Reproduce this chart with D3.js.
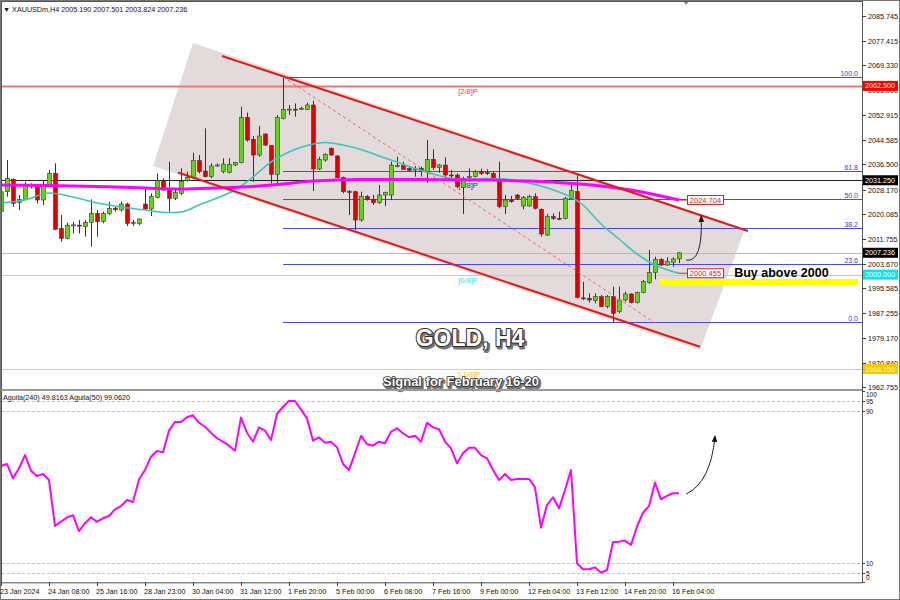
<!DOCTYPE html>
<html><head><meta charset="utf-8">
<script src="https://cdn.jsdelivr.net/npm/d3@7"></script>
<style>body{margin:0;background:#fff}svg{display:block}text{font-family:"Liberation Sans",Arial,sans-serif}</style>
</head><body><svg id="c" width="900" height="600"></svg>
<script>
// ---------- DATA (XAUUSDm, H4, bar 0 = 23 Jan 2024 00:00) ----------
const opens = [2020.84,2027.46,2031.55,2023.82,2024.93,2029.70,2029.34,2024.71,2029.45,2033.53,2015.32,2012.01,2016.30,2016.40,2015.88,2017.31,2020.29,2017.53,2020.29,2022.00,2021.40,2023.38,2017.10,2016.98,2023.38,2021.73,2025.59,2031.11,2028.02,2025.26,2026.92,2031.11,2032.21,2037.73,2034.31,2032.44,2036.10,2034.09,2033.87,2036.30,2037.07,2052.08,2044.80,2039.61,2046.56,2042.70,2033.20,2051.75,2054.60,2054.80,2054.90,2054.73,2056.17,2034.98,2037.96,2041.82,2039.28,2032.21,2027.50,2027.46,2018.08,2025.81,2024.93,2023.82,2026.36,2026.36,2036.00,2036.19,2035.19,2035.00,2035.19,2034.09,2038.18,2035.53,2036.30,2033.00,2032.99,2028.90,2032.40,2032.44,2034.09,2033.80,2033.53,2031.55,2022.50,2024.71,2026.36,2022.72,2022.72,2025.81,2021.62,2013.12,2019.19,2018.64,2018.64,2025.27,2027.47,1992.30,1992.15,1991.38,1992.70,1989.39,1992.70,1987.74,1991.60,1993.59,1990.72,1994.03,1997.34,2000.65,2005.07,2003.19,2004.07,2005.19];
const highs = [2028.57,2037.96,2031.88,2026.36,2030.78,2030.23,2030.00,2031.11,2034.64,2036.85,2019.74,2017.20,2017.53,2018.08,2018.08,2024.93,2021.40,2020.85,2024.15,2022.50,2024.15,2023.82,2018.08,2018.64,2028.57,2026.92,2033.53,2031.88,2037.40,2028.02,2035.19,2034.09,2040.38,2039.61,2048.44,2036.85,2036.85,2038.51,2038.51,2037.40,2055.61,2053.63,2045.90,2049.21,2046.78,2042.92,2052.85,2065.50,2056.17,2056.72,2055.61,2056.94,2057.60,2039.06,2040.16,2042.15,2039.61,2032.44,2028.02,2027.80,2027.46,2026.36,2026.36,2029.68,2027.46,2037.40,2039.06,2037.40,2035.97,2035.97,2035.75,2044.58,2041.49,2036.63,2038.84,2034.64,2033.53,2032.44,2035.19,2034.64,2035.08,2034.86,2034.09,2037.40,2026.36,2026.03,2026.70,2026.03,2026.36,2026.92,2021.95,2020.07,2020.29,2020.85,2025.81,2029.68,2032.99,1997.67,1993.81,1993.81,1993.26,1993.26,1996.02,1996.02,1994.36,1993.81,1994.36,1998.22,2008.16,2005.95,2005.40,2005.73,2005.73,2007.501];
const lows = [2020.29,2025.81,2022.50,2021.40,2024.71,2028.57,2023.60,2023.05,2029.12,2014.77,2010.91,2011.68,2013.67,2013.67,2012.56,2009.25,2012.56,2016.98,2019.74,2020.85,2020.85,2016.10,2016.10,2016.43,2021.40,2019.41,2025.26,2027.80,2020.85,2024.71,2026.36,2030.78,2031.88,2033.53,2032.21,2031.88,2035.75,2033.53,2033.53,2035.97,2036.85,2044.03,2030.78,2039.06,2042.59,2030.23,2030.23,2051.42,2052.86,2052.31,2054.51,2054.51,2027.69,2034.64,2037.40,2039.28,2031.88,2026.92,2019.74,2014.77,2017.53,2024.49,2023.05,2023.38,2022.72,2024.71,2035.53,2034.64,2034.09,2032.44,2032.44,2030.45,2034.64,2033.76,2031.88,2031.33,2028.57,2020.07,2030.78,2032.21,2032.99,2032.99,2031.33,2021.95,2020.07,2023.82,2024.71,2021.62,2022.50,2021.62,2012.56,2012.79,2018.08,2018.08,2018.31,2024.94,1992.15,1991.60,1990.72,1990.50,1989.17,1988.84,1984.09,1987.19,1991.05,1990.50,1990.50,1993.81,1996.90,1998.44,2002.86,2002.86,2002.64,2003.824];
const closes = [2027.46,2031.88,2023.60,2024.93,2029.90,2029.60,2024.71,2029.57,2033.53,2015.00,2012.01,2016.21,2016.50,2016.20,2017.31,2020.29,2017.53,2020.29,2021.95,2021.50,2023.38,2016.98,2017.30,2018.42,2021.73,2025.81,2031.11,2028.02,2025.26,2027.14,2030.78,2032.21,2037.73,2034.09,2032.44,2035.97,2036.30,2036.63,2036.52,2037.18,2052.08,2044.58,2039.61,2045.90,2042.92,2033.20,2051.97,2054.73,2054.80,2054.60,2055.10,2056.17,2034.98,2038.18,2039.83,2039.61,2032.10,2027.46,2027.30,2018.08,2025.81,2024.93,2023.82,2026.36,2027.14,2036.30,2036.10,2034.87,2034.53,2034.90,2034.09,2038.18,2035.53,2036.30,2032.99,2032.90,2029.12,2031.88,2032.50,2034.09,2033.43,2033.70,2031.55,2022.50,2024.71,2024.15,2025.26,2025.59,2025.81,2021.95,2013.45,2019.19,2018.64,2018.31,2025.26,2027.80,1992.49,1992.10,1991.60,1992.70,1989.39,1992.70,1987.19,1991.60,1993.59,1990.72,1994.03,1997.67,2000.65,2005.07,2003.19,2004.30,2005.18,2007.236];

// slow MA (magenta) read at sample bars
const maSlowIdx = [0,8,16,24,30,36,42,47,52,60,70,80,88,94,100,106,110,113];
const maSlowVal = [2029.68,2029.52,2029.18,2028.69,2028.36,2028.69,2029.18,2030.01,2031.0,2031.5,2031.5,2031.34,2031.0,2030.34,2029.35,2027.69,2026.04,2024.704];
// fast MA (teal) read at sample bars
const maFastIdx = [0,4,8,12,16,20,24,28,30,33,36,39,42,45,48,51,54,57,60,63,66,69,72,75,78,81,84,87,90,93,95,97,100,103,106,109,113];
const maFastVal = [2023.72,2024.72,2027.03,2025.71,2023.72,2022.40,2021.40,2020.57,2020.74,2023.06,2025.38,2028.02,2032.33,2037.30,2040.61,2042.76,2043.76,2042.93,2041.43,2039.28,2037.30,2035.14,2033.32,2031.83,2031.50,2031.83,2031.67,2030.67,2029.35,2027.36,2025.71,2023.06,2016.77,2011.80,2006.83,2003.19,2000.455];

// Aguila oscillator, one value per bar
const aguila = [61.0,62.0,54.5,59.8,66.7,58.5,55.7,56.8,53.6,29.6,31.8,34.1,35.2,26.9,31.0,34.1,31.8,33.6,34.8,38.3,40.0,43.2,42.1,54.0,58.9,65.8,68.8,68.1,79.5,84.0,84.0,86.5,87.5,83.6,81.5,78.4,75.5,73.7,71.6,69.0,86.3,78.4,73.7,81.2,79.5,74.6,88.2,92.0,95.0,95.0,90.5,85.9,74.2,76.0,73.2,73.7,70.8,62.0,58.9,67.6,76.7,72.5,71.6,73.7,72.9,78.9,80.7,78.1,76.0,76.8,73.7,83.6,81.2,80.2,73.7,70.2,62.4,67.6,70.5,70.5,66.7,65.0,58.9,53.6,56.8,53.6,54.2,54.2,54.2,49.8,28.7,40.5,44.6,38.8,48.4,58.9,10.0,6.9,6.9,7.9,5.1,6.5,21.2,21.3,21.9,19.6,29.2,36.5,40.0,52.2,43.5,45.3,46.7,46.7];

const priceTicks = [2085.745,2077.415,2069.330,2061.000,2052.915,2044.585,2036.500,2028.170,2020.085,2011.755,2003.670,1995.585,1987.255,1979.170,1970.840,1962.755];
const timeTickIdx = [0,8,16,24,32,40,48,56,64,72,80,88,96,104,112];
const timeTickLbl = ["23 Jan 2024","24 Jan 08:00","25 Jan 16:00","28 Jan 23:00","30 Jan 04:00","31 Jan 12:00","1 Feb 20:00","5 Feb 00:00","6 Feb 08:00","7 Feb 16:00","9 Feb 00:00","12 Feb 04:00","13 Feb 12:00","14 Feb 20:00","16 Feb 04:00"];
const oscLevels = [95,90,10,5];
const oscTicks = [100,95,90,10,5,0];

// Murrey levels
const murreyPrice = [2062.5,2031.25,2000.0,1968.75];
const murreyLabel = ["[2/8]P","[1/8]P","[0/8]P","[-1/8]P"];
const murreyColor = ["#f07878","#222222","#7ee8ee","#ffd21a"];
const murreyText = ["#ff3333","#333333","#3fd8e6","#f0c000"];
const murreyBox = ["#ff0000","#000000","#00e8f0","#ffc400"];

// Fibonacci
const fibLevels = [0,23.6,38.2,50,61.8,100];
const fibHigh = 2065.5, fibLow = 1984.3, fibStartIdx = 47;

// channel drawing (bar index, price)
const boxIdx = [32,124,116.5,25.33], boxPrice = [2076.7,2015.11,1975.04,2035.97];
const chanUpIdx = [36.83,124.5], chanUpPrice = [2072.40,2014.45];
const chanLoIdx = [29.5,116.5], chanLoPrice = [2033.82,1976.14];
const dashIdx = [47,109], dashPrice = [2065.5,1984.0];
const buyZone = [1996.55,1998.55], buyZoneStartIdx = 109.7;

// ---------- CHART ----------
const svg = d3.select('#c');
const plotL = 2, plotR = 862, mainT = 2, mainB = 389, oscT = 391, oscB = 582;
const x = d3.scaleLinear().domain([0,113]).range([1,679]);
const y = d3.scaleLinear().domain([1962.755,2085.745]).range([387.1,15.7]);
const yo = d3.scaleLinear().domain([0,100]).range([582.45,391.45]);

const defs = svg.append('defs');
defs.append('clipPath').attr('id','cm').append('rect').attr('x',plotL).attr('y',mainT).attr('width',plotR-plotL).attr('height',mainB-mainT);
defs.append('clipPath').attr('id','co').append('rect').attr('x',plotL).attr('y',oscT).attr('width',plotR-plotL).attr('height',oscB-oscT);
const mk = defs.append('marker').attr('id','ah').attr('viewBox','0 0 10 10').attr('refX',8).attr('refY',5)
  .attr('markerWidth',7).attr('markerHeight',7).attr('orient','auto');
mk.append('path').attr('d','M0,1 L10,5 L0,9 Z').attr('fill','#111');

svg.append('rect').attr('x',0).attr('y',0).attr('width',900).attr('height',600).attr('fill','#fff');
const gm = svg.append('g').attr('clip-path','url(#cm)');
const go = svg.append('g').attr('clip-path','url(#co)');

// shaded channel
gm.append('polygon').attr('points', boxIdx.map((b,k)=>[x(b),y(boxPrice[k])].join(',')).join(' '))
  .attr('fill','#e3dbdb');

// murrey lines
murreyPrice.forEach((p,k)=>{
  gm.append('line').attr('x1',plotL).attr('x2',plotR).attr('y1',Math.round(y(p))+0.5).attr('y2',Math.round(y(p))+0.5)
    .attr('stroke',murreyColor[k]).attr('stroke-width',k===0?2:1);
  gm.append('text').attr('x',x(76.2)).attr('y',y(p)+8).attr('font-size',7.5)
    .attr('fill',murreyText[k]).text(murreyLabel[k]);
});
// current price line
gm.append('line').attr('x1',plotL).attr('x2',plotR).attr('y1',Math.round(y(closes[113]))+0.5).attr('y2',Math.round(y(closes[113]))+0.5)
  .attr('stroke','#b8b8b8').attr('stroke-width',1);

// fib lines
fibLevels.forEach(l=>{
  const p = fibLow + (fibHigh-fibLow)*l/100;
  const yy = Math.round(y(p))+0.5;
  gm.append('line').attr('x1',x(fibStartIdx)).attr('x2',plotR).attr('y1',yy).attr('y2',yy).attr('stroke','#4848f4').attr('stroke-width',1);
  gm.append('text').attr('x',858).attr('y',yy-2).attr('text-anchor','end').attr('font-size',7).attr('fill','#3a3af0').text(l.toFixed(1));
});

// buy zone
gm.append('rect').attr('x',x(buyZoneStartIdx)).attr('y',y(buyZone[1])).attr('width',858-x(buyZoneStartIdx))
  .attr('height',y(buyZone[0])-y(buyZone[1])).attr('fill','#ffff00');

// candles
const gc = gm.append('g');
d3.range(opens.length).forEach(i=>{
  const cx = Math.round(x(i))+0.5;
  gc.append('line').attr('x1',cx).attr('x2',cx).attr('y1',y(highs[i])).attr('y2',y(lows[i])).attr('stroke','#333').attr('stroke-width',1);
  const up = closes[i]>=opens[i];
  const top = y(Math.max(opens[i],closes[i])), bot = y(Math.min(opens[i],closes[i]));
  gc.append('rect').attr('x',cx-2).attr('y',top).attr('width',4).attr('height',Math.max(1,bot-top))
    .attr('fill',up?'#62d316':'#e10000').attr('stroke','#3a3a3a').attr('stroke-width',0.6);
});

// moving averages
const lineGen = d3.line().curve(d3.curveMonotoneX);
gm.append('path').attr('d',lineGen(maFastIdx.map((b,k)=>[x(b),y(maFastVal[k])])))
  .attr('fill','none').attr('stroke','#3cc4bc').attr('stroke-width',1.6);
gm.append('path').attr('d',lineGen(maSlowIdx.map((b,k)=>[x(b),y(maSlowVal[k])])))
  .attr('fill','none').attr('stroke','#ff00ff').attr('stroke-width',3);

// channel lines
gm.append('line').attr('x1',x(chanUpIdx[0])).attr('y1',y(chanUpPrice[0])).attr('x2',x(chanUpIdx[1])).attr('y2',y(chanUpPrice[1]))
  .attr('stroke','#dd1c1c').attr('stroke-width',2);
gm.append('line').attr('x1',x(chanLoIdx[0])).attr('y1',y(chanLoPrice[0])).attr('x2',x(chanLoIdx[1])).attr('y2',y(chanLoPrice[1]))
  .attr('stroke','#dd1c1c').attr('stroke-width',2);
gm.append('line').attr('x1',x(dashIdx[0])).attr('y1',y(dashPrice[0])).attr('x2',x(dashIdx[1])).attr('y2',y(dashPrice[1]))
  .attr('stroke','#f06060').attr('stroke-width',1).attr('stroke-dasharray','3,3');

// MA value boxes
[[maSlowVal[maSlowVal.length-1]],[maFastVal[maFastVal.length-1]]].forEach(([v])=>{
  const yy = y(v);
  gm.append('line').attr('x1',x(113)).attr('x2',x(113)+8).attr('y1',yy).attr('y2',yy).attr('stroke','#e02020');
  gm.append('rect').attr('x',x(113)+8.5).attr('y',yy-4.5).attr('width',36).attr('height',9).attr('fill','#fff').attr('stroke','#e02020').attr('stroke-width',1);
  gm.append('text').attr('x',x(113)+26.5).attr('y',yy+3).attr('text-anchor','middle').attr('font-size',7.5).attr('fill','#e02020').text(v.toFixed(3));
});

// arrow main
const a0=[x(114.2),y(2004.8)], ac=[x(117),y(2003.9)], a1=[x(116.7),y(2019.3)];
gm.append('path').attr('d',`M${a0}Q${ac} ${a1}`).attr('fill','none').attr('stroke','#222').attr('stroke-width',1).attr('marker-end','url(#ah)');

// Buy above 2000
gm.append('text').attr('x',x(122.2)).attr('y',y(2000)+2).attr('font-size',12.5).attr('font-weight','bold').attr('fill','#000').text('Buy above 2000');

// outlined big texts
function outlined(g, txt, cx, by, size, sw){
  g.append('text').attr('x',cx+1.5).attr('y',by+1.5).attr('text-anchor','middle').attr('font-size',size).attr('font-weight','bold')
    .attr('fill','#777').attr('stroke','#777').attr('stroke-width',sw+0.8).attr('stroke-linejoin','round').text(txt);
  g.append('text').attr('x',cx).attr('y',by).attr('text-anchor','middle').attr('font-size',size).attr('font-weight','bold')
    .attr('fill','#fff').attr('stroke','#2a2a2a').attr('stroke-width',sw).attr('stroke-linejoin','round').attr('paint-order','stroke').text(txt);
}
outlined(svg, 'GOLD, H4', 470, 346, 23, 2);
outlined(svg, 'Signal for February 16-20', 461, 386, 13, 1.6);

// header
svg.append('text').attr('x',3).attr('y',12).attr('font-size',7.2).attr('fill','#111')
  .text('\u25BC XAUUSDm,H4  2005.190 2007.501 2003.824 2007.236');
svg.append('path').attr('d',`M${x(114.2)-3},1 L${x(114.2)+3},1 L${x(114.2)},5 Z`).attr('fill','#888');

// ---------- OSCILLATOR ----------
oscLevels.forEach(l=>{
  go.append('line').attr('x1',plotL).attr('x2',plotR).attr('y1',Math.round(yo(l))+0.5).attr('y2',Math.round(yo(l))+0.5)
    .attr('stroke','#c4c4c4').attr('stroke-dasharray','3,2');
});
go.append('path').attr('d',d3.line()(aguila.map((v,i)=>[x(i),yo(v)])))
  .attr('fill','none').attr('stroke','#ff00ff').attr('stroke-width',2).attr('stroke-linejoin','round');
const o0=[x(114.2),yo(46.3)], oc=[x(118.3),yo(52.5)], o1=[x(119),yo(76.5)];
go.append('path').attr('d',`M${o0}Q${oc} ${o1}`).attr('fill','none').attr('stroke','#222').attr('stroke-width',1).attr('marker-end','url(#ah)');
svg.append('text').attr('x',3).attr('y',400).attr('font-size',7.2).attr('fill','#111').text('Aguila(240) 49.8163  Aguila(50) 99.0620');

// ---------- FRAMES & AXES ----------
svg.append('rect').attr('x',0.5).attr('y',0.5).attr('width',899).attr('height',599).attr('fill','none').attr('stroke','#777');
svg.append('line').attr('x1',1.5).attr('x2',1.5).attr('y1',1).attr('y2',oscB).attr('stroke','#555');
svg.append('line').attr('x1',1).attr('x2',plotR).attr('y1',1.5).attr('y2',1.5).attr('stroke','#555');
svg.append('line').attr('x1',plotR+0.5).attr('x2',plotR+0.5).attr('y1',1).attr('y2',oscB+1).attr('stroke','#555');
svg.append('rect').attr('x',1).attr('y',mainB).attr('width',plotR-1).attr('height',2).attr('fill','#9a9a9a');
svg.append('rect').attr('x',1).attr('y',oscB).attr('width',plotR-1).attr('height',1.5).attr('fill','#8a8a8a');

const ga = svg.append('g');
priceTicks.forEach(p=>{
  const yy = Math.round(y(p))+0.5;
  ga.append('line').attr('x1',plotR).attr('x2',plotR+4).attr('y1',yy).attr('y2',yy).attr('stroke','#444');
  ga.append('text').attr('x',plotR+6).attr('y',yy+2.6).attr('font-size',7.2).attr('fill','#111').text(p.toFixed(3));
});
// price boxes
const boxVals = murreyPrice.concat([closes[113]]);
const boxCols = murreyBox.concat(['#000000']);
boxVals.forEach((p,k)=>{
  const yy = y(p);
  ga.append('rect').attr('x',plotR+1).attr('y',yy-5).attr('width',35).attr('height',10).attr('fill',boxCols[k]);
  ga.append('text').attr('x',plotR+3).attr('y',yy+2.6).attr('font-size',7.2).attr('fill','#fff').text(p.toFixed(3));
});
oscTicks.forEach(v=>{
  const yy = Math.round(yo(v))+0.5;
  ga.append('line').attr('x1',plotR).attr('x2',plotR+3).attr('y1',yy).attr('y2',yy).attr('stroke','#444');
  ga.append('text').attr('x',plotR+4).attr('y',Math.max(397, Math.min(580, yy+2.4))).attr('font-size',6.5).attr('fill','#111').text(v);
});
timeTickIdx.forEach((b,k)=>{
  const xx = Math.round(x(b))+0.5;
  ga.append('line').attr('x1',xx).attr('x2',xx).attr('y1',oscB).attr('y2',oscB+4).attr('stroke','#444');
  ga.append('text').attr('x',xx-1.5).attr('y',594).attr('font-size',7.2).attr('fill','#111').text(timeTickLbl[k]);
});
</script></body></html>
